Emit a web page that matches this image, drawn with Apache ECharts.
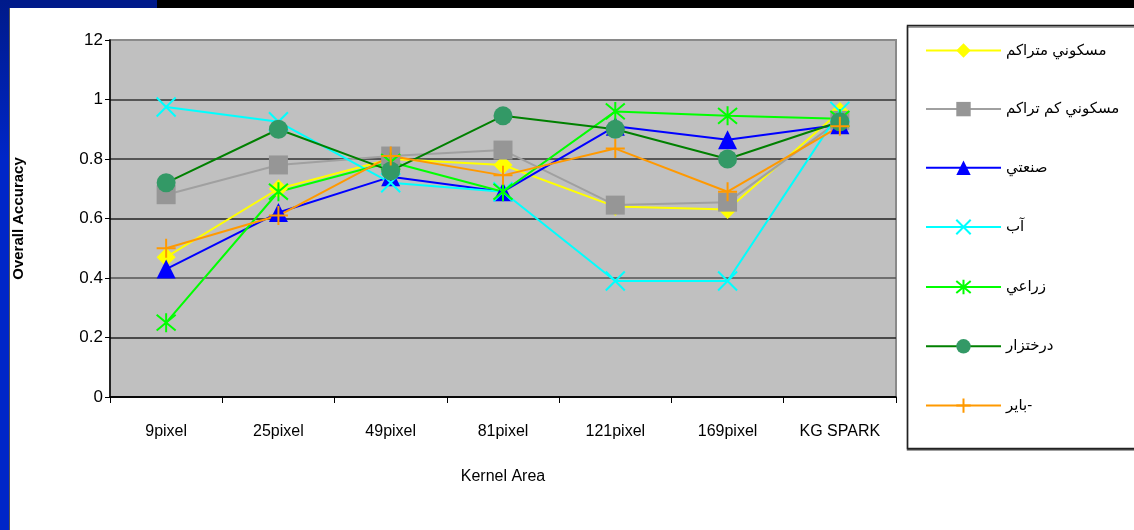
<!DOCTYPE html>
<html>
<head>
<meta charset="utf-8">
<script src="https://cdn.jsdelivr.net/npm/echarts@6/dist/echarts.min.js"></script>
<style>
  html, body { margin: 0; padding: 0; background: #fff; }
  #chart { width: 1134px; height: 530px; }
</style>
</head>
<body>
<div id="chart"></div>
<script>
const categories = ['9pixel', '25pixel', '49pixel', '81pixel', '121pixel', '169pixel', 'KG SPARK']
const yTickLabels = ['0', '0.2', '0.4', '0.6', '0.8', '1', '12']

const maskooniMotarakem = [0.47, 0.70, 0.80, 0.78, 0.64, 0.63, 0.96]
const maskooniKamTarakom = [0.68, 0.78, 0.81, 0.83, 0.645, 0.655, 0.93]
const sanati = [0.43, 0.62, 0.74, 0.69, 0.91, 0.865, 0.915]
const ab = [0.975, 0.925, 0.72, 0.69, 0.39, 0.39, 0.96]
const zeraee = [0.25, 0.69, 0.79, 0.69, 0.96, 0.945, 0.935]
const derakhtzar = [0.72, 0.90, 0.76, 0.945, 0.90, 0.80, 0.925]
const bayer = [0.50, 0.61, 0.81, 0.745, 0.835, 0.69, 0.91]

const X_PATH = 'path://M0,0L10,10M10,0L0,10'
const STAR_PATH = 'path://M0,0L10,10M10,0L0,10M5,-1L5,11'
const PLUS_PATH = 'path://M5,0L5,10M0,5L10,5'

const font = '"Liberation Sans", "DejaVu Sans", Arial, sans-serif'

function lineSeries(name, data, lineColor, symbol, symbolColor, stroked) {
  return {
    type: 'line',
    name,
    data,
    symbol,
    symbolSize: 19,
    lineStyle: { color: lineColor, width: 2 },
    itemStyle: stroked
      ? { color: 'rgba(0,0,0,0)', borderColor: symbolColor, borderWidth: 2 }
      : { color: symbolColor, borderWidth: 0 },
    emphasis: { disabled: true },
    animation: false
  }
}

const chart = echarts.init(document.getElementById('chart'))
chart.setOption({
  backgroundColor: '#ffffff',
  animation: false,
  graphic: [
    { type: 'rect', shape: { x: 0, y: 0, width: 1134, height: 8 }, style: { fill: '#000000' }, z: 0 },
    { type: 'rect', shape: { x: 0, y: 0, width: 157, height: 8 }, style: { fill: '#001a8a' }, z: 1 },
    {
      type: 'rect', shape: { x: 0, y: 0, width: 10, height: 530 },
      style: {
        fill: new echarts.graphic.LinearGradient(0, 0, 0, 1, [
          { offset: 0, color: '#001a8a' }, { offset: 0.3, color: '#0026c8' }, { offset: 1, color: '#0026c8' }
        ])
      }, z: 1
    },
    { type: 'rect', shape: { x: 9, y: 8, width: 1, height: 522 }, style: { fill: '#555555' }, z: 2 },
    {
      type: 'rect', shape: { x: 907.5, y: 25.5, width: 240, height: 423 },
      style: { fill: '#ffffff', stroke: '#222222', lineWidth: 1.5, shadowColor: 'rgba(0,0,0,0.5)', shadowOffsetY: 1.5 },
      z: 0
    }
  ],
  grid: {
    left: 110, right: 238, top: 40, bottom: 133,
    show: true, backgroundColor: '#c0c0c0', borderColor: '#8a8a8a', borderWidth: 2
  },
  legend: {
    orient: 'vertical',
    left: 920, top: 38,
    itemWidth: 75, itemHeight: 18, itemGap: 43.6,
    textStyle: { color: '#000', fontSize: 15, fontFamily: font },
    selectedMode: false,
    data: ['مسكوني متراكم', 'مسكوني كم تراكم', 'صنعتي', 'آب', 'زراعي', 'درختزار', 'باير-']
  },
  xAxis: {
    type: 'category',
    data: categories,
    boundaryGap: true,
    name: 'Kernel Area',
    nameLocation: 'middle',
    nameGap: 72,
    nameTextStyle: { color: '#000', fontSize: 16, fontFamily: font },
    axisLine: { lineStyle: { color: '#000', width: 1.5 } },
    axisTick: { show: true, length: 6, interval: 0, lineStyle: { color: '#000' } },
    axisLabel: { color: '#000', fontSize: 16, fontFamily: font, margin: 27, interval: 0 },
    splitLine: { show: false }
  },
  yAxis: {
    type: 'value',
    min: 0, max: 1.2, interval: 0.2,
    name: 'Overall Accuracy',
    nameLocation: 'middle',
    nameGap: 84,
    nameTextStyle: { color: '#000', fontSize: 15, fontWeight: 'bold', fontFamily: font },
    axisLine: { show: true, lineStyle: { color: '#000', width: 1.5 } },
    axisTick: { show: true, length: 5, lineStyle: { color: '#000' } },
    axisLabel: {
      color: '#000', fontSize: 17, fontFamily: font, margin: 7,
      formatter: v => yTickLabels[Math.round(v / 0.2)]
    },
    splitLine: {
      show: true,
      lineStyle: { color: ['#000', '#222', '#555', '#222', '#333', '#333', '#8a8a8a'], width: 1.5 }
    }
  },
  series: [
    lineSeries('مسكوني متراكم', maskooniMotarakem, '#ffff00', 'diamond', '#ffff00', false),
    lineSeries('مسكوني كم تراكم', maskooniKamTarakom, '#a0a0a0', 'rect', '#969696', false),
    lineSeries('صنعتي', sanati, '#0000ff', 'triangle', '#0000ff', false),
    lineSeries('آب', ab, '#00ffff', X_PATH, '#00ffff', true),
    lineSeries('زراعي', zeraee, '#00ff00', STAR_PATH, '#00ff00', true),
    lineSeries('درختزار', derakhtzar, '#008000', 'circle', '#339966', false),
    lineSeries('باير-', bayer, '#ff9900', PLUS_PATH, '#ff9900', true)
  ]
})
</script>
</body>
</html>
